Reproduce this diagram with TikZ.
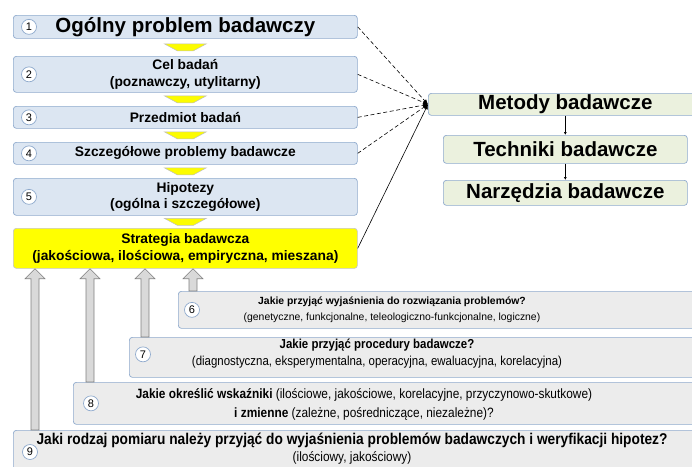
\documentclass[tikz,border=0pt]{standalone}
\usepackage{fontspec}
\setmainfont{Liberation Sans}
\newfontfamily\narrowsf[FakeStretch=0.88]{Liberation Sans}
\usepackage{tikz}
\usetikzlibrary{arrows.meta, positioning, calc}
\definecolor{boxblue}{RGB}{220,230,242}
\definecolor{edgeblue}{RGB}{143,170,205}
\definecolor{boxgreen}{RGB}{235,241,222}
\definecolor{boxgray}{RGB}{236,236,236}
\definecolor{arrgray}{RGB}{217,217,217}
\definecolor{stratyellow}{RGB}{255,255,0}

% grey block arrow from a point up to the strategy box
\newcommand{\blockup}[2]{%
  \draw[blockarr] let \p1=(#1), \p2=(#2) in
    (\x1-4pt,\y1) -- (\x1-4pt,\y2-10pt) -- (\x1-10pt,\y2-10pt) -- (\x1,\y2)
    -- (\x1+10pt,\y2-10pt) -- (\x1+4pt,\y2-10pt) -- (\x1+4pt,\y1) -- cycle;}
% small yellow chevron between two steps
\newcommand{\chevron}[2]{%
  \draw[ychev] let \p1=($(#1.south)!0.5!(#2.north)$) in
    (\x1-21pt,\y1+3.5pt) -- (\x1+21pt,\y1+3.5pt) -- (\x1+8pt,\y1-3.5pt)
    -- (\x1-8pt,\y1-3.5pt) -- cycle;}

\begin{document}
\begin{tikzpicture}[x=1pt, y=-1pt,
    box/.style={draw=edgeblue, line width=0.7pt, rounded corners=3pt,
                anchor=north west, inner sep=0pt, align=center},
    stepbox/.style={box, fill=boxblue, minimum width=344pt,
                    font=\bfseries\fontsize{13.8}{16.5}\selectfont},
    toolbox/.style={box, fill=boxgreen, minimum width=244pt,
                    font=\bfseries\fontsize{20.5}{22}\selectfont},
    askbox/.style={box, fill=boxgray},
    num/.style={circle, draw=edgeblue, fill=white, line width=0.7pt,
                inner sep=0pt, minimum size=15pt, font=\fontsize{11}{11}\selectfont},
    link/.style={dash pattern=on 4pt off 2.5pt, line width=0.6pt,
                 -{Latex[length=5pt,width=4pt]}},
    blockarr/.style={fill=arrgray, draw=gray, line width=0.6pt},
    ychev/.style={fill=stratyellow!90!black!10!yellow, draw=gray!50, line width=0.5pt}
  ]
  \clip (0,0) rectangle (692,466);

  % main path of the research
  \node[stepbox, minimum height=23pt, font=\bfseries\fontsize{20.5}{22}\selectfont]
    (b1) at (13,15) {Ogólny problem badawczy};
  \node[stepbox, minimum height=36pt] (b2) at (13,56) {Cel badań\\(poznawczy, utylitarny)};
  \node[stepbox, minimum height=22pt] (b3) at (13,106) {Przedmiot badań};
  \node[stepbox, minimum height=22pt] (b4) at (13,142) {Szczegółowe problemy badawcze};
  \node[stepbox, minimum height=37pt] (b5) at (13,178) {Hipotezy\\(ogólna i szczegółowe)};
  \node[stepbox, minimum height=40pt, fill=stratyellow, draw=gray!45]
    (strat) at (13,228) {Strategia badawcza\\(jakościowa, ilościowa, empiryczna, mieszana)};

  \foreach \b/\n in {b1/1, b2/2, b3/3, b4/4, b5/5}
    \node[num] (n\n) at ($(\b.west)+(16,0)$) {\n};

  \chevron{b1}{b2}
  \chevron{b2}{b3}
  \chevron{b3}{b4}
  \chevron{b4}{b5}
  \chevron{b5}{strat}

  % methods, techniques, tools
  \node[toolbox, minimum width=274pt, minimum height=22pt] (met) at (428,93) {Metody badawcze};
  \node[toolbox, minimum height=28pt] (tech) at (443,135) {Techniki badawcze};
  \node[toolbox, minimum height=25pt] (narz) at (443,180) {Narzędzia badawcze};

  \draw[line width=0.6pt, -{Latex[length=3pt,width=3pt]}] (met.south) -- (tech.north);
  \draw[line width=0.6pt, -{Latex[length=3pt,width=3pt]}] (tech.south) -- (narz.north);

  \foreach \b in {b1, b2, b3, b4}
    \draw[link] (\b.east) -- (met.west);
  \draw[line width=0.6pt, -{Latex[length=5pt,width=4pt]}] (strat.east) -- (met.west);

  % questions under the strategy
  \node[askbox, minimum width=540pt, minimum height=37pt] (b6) at (178,291) {};
  \node[askbox, minimum width=600pt, minimum height=40pt] (b7) at (129,337) {};
  \node[askbox, minimum width=660pt, minimum height=42pt] (b8) at (73,382) {};
  \node[askbox, minimum width=720pt, minimum height=50pt] (b9) at (13,430) {};

  \node[num] (n6) at ($(b6.west)+(14,0)$) {6};
  \node[num] (n7) at ($(b7.west)+(14,-3)$) {7};
  \node[num] (n8) at ($(b8.west)+(18,0)$) {8};
  \node[num] (n9) at ($(b9.north west)+(17,22)$) {9};

  \node[align=center, inner sep=0pt, font=\fontsize{10.4}{16}\selectfont] (t6) at (392,310)
    {\textbf{Jakie przyjąć wyjaśnienia do rozwiązania problemów?}\\
     (genetyczne, funkcjonalne, teleologiczno-funkcjonalne, logiczne)};
  \node[align=center, inner sep=0pt, font=\narrowsf\fontsize{13}{17}\selectfont] (t7) at (377,354)
    {\textbf{Jakie przyjąć procedury badawcze?}\\
     (diagnostyczna, eksperymentalna, operacyjna, ewaluacyjna, korelacyjna)};
  \node[align=center, inner sep=0pt, font=\narrowsf\fontsize{13.5}{19}\selectfont] (t8) at (364,404)
    {\textbf{Jakie określić wskaźniki} (ilościowe, jakościowe, korelacyjne, przyczynowo-skutkowe)\\
     \textbf{i zmienne} (zależne, pośredniczące, niezależne)?};
  \node[align=center, inner sep=0pt, font=\narrowsf\fontsize{15.6}{17}\selectfont] (t9) at (352,449)
    {\textbf{Jaki rodzaj pomiaru należy przyjąć do wyjaśnienia problemów badawczych i weryfikacji hipotez?}\\
     {\fontsize{13.5}{17}\selectfont(ilościowy, jakościowy)}};

  \coordinate (a6) at ($(b6.north west)+(15,0)$);
  \coordinate (a7) at ($(b7.north west)+(16,0)$);
  \coordinate (a8) at ($(b8.north west)+(17,0)$);
  \coordinate (a9) at ($(b9.north west)+(22,0)$);
  \foreach \a in {a6, a7, a8, a9}
    {\blockup{\a}{strat.south}}
\end{tikzpicture}
\end{document}
